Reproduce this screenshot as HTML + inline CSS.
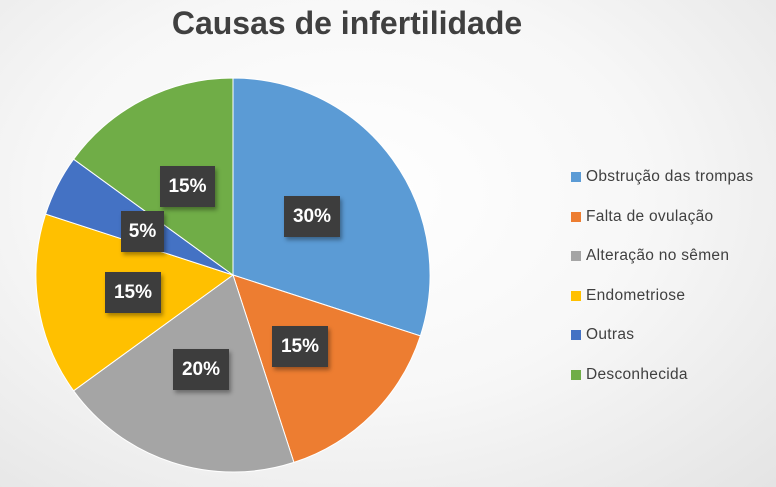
<!DOCTYPE html>
<html><head><meta charset="utf-8"><style>
body{margin:0}
.c{width:776px;height:487px;position:relative;overflow:hidden;background:radial-gradient(ellipse at 45% 40%,#ffffff 0%,#f7f7f7 50%,#e4e4e4 100%);font-family:"Liberation Sans",sans-serif}
.t{position:absolute;left:0;width:694px;top:5px;text-align:center;font-size:32px;font-weight:bold;color:#404040}
.lb{position:absolute;background:#3d3d3d;color:#fff;font-weight:bold;font-size:19px;height:41px;line-height:41px;text-align:center;box-shadow:2px 3px 4px rgba(0,0,0,.35)}
.lg{position:absolute;left:571px;font-size:15.5px;color:#404040;letter-spacing:0.3px}
.lg div{height:39.5px;line-height:20px;white-space:nowrap}
.lg span{display:inline-block;width:10px;height:10px;margin-right:5px;vertical-align:-1px}
</style></head><body><div class="c">
<div class="t">Causas de infertilidade</div>
<svg width="776" height="487" style="position:absolute;left:0;top:0">
<g stroke="#fff" stroke-width="1">
<path d="M233 275 L233 78 A197 197 0 0 1 420.4 335.9Z" fill="#5b9bd5"/>
<path d="M233 275 L420.4 335.9 A197 197 0 0 1 293.9 462.4Z" fill="#ed7d31"/>
<path d="M233 275 L293.9 462.4 A197 197 0 0 1 73.6 390.8Z" fill="#a5a5a5"/>
<path d="M233 275 L73.6 390.8 A197 197 0 0 1 45.6 214.1Z" fill="#ffc000"/>
<path d="M233 275 L45.6 214.1 A197 197 0 0 1 73.6 159.2Z" fill="#4472c4"/>
<path d="M233 275 L73.6 159.2 A197 197 0 0 1 233 78Z" fill="#70ad47"/>
</g></svg>
<div class="lb" style="left:284px;top:196px;width:56px">30%</div>
<div class="lb" style="left:272px;top:326px;width:56px">15%</div>
<div class="lb" style="left:173px;top:349px;width:56px">20%</div>
<div class="lb" style="left:105px;top:272px;width:56px">15%</div>
<div class="lb" style="left:121px;top:211px;width:43px">5%</div>
<div class="lb" style="left:160px;top:166px;width:55px">15%</div>
<div class="lg" style="top:167px">
<div><span style="background:#5b9bd5"></span>Obstrução das trompas</div>
<div><span style="background:#ed7d31"></span>Falta de ovulação</div>
<div><span style="background:#a5a5a5"></span>Alteração no sêmen</div>
<div><span style="background:#ffc000"></span>Endometriose</div>
<div><span style="background:#4472c4"></span>Outras</div>
<div><span style="background:#70ad47"></span>Desconhecida</div>
</div>
</div></body></html>
